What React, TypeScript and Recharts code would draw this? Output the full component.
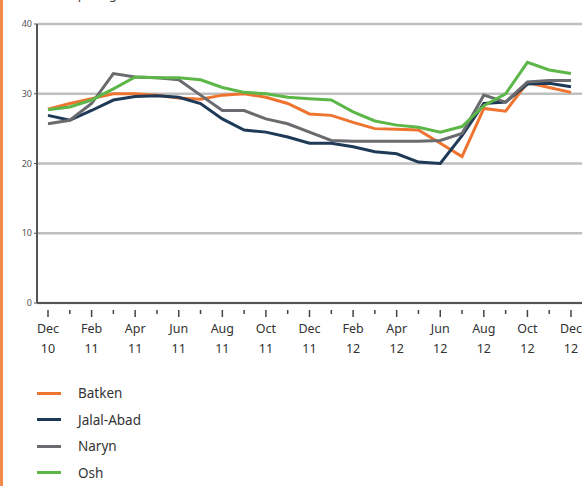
import { LineChart, Line, XAxis, YAxis, CartesianGrid } from 'recharts';

// monthly prices, Dec 2010 – Dec 2012
const months = [
  'Dec 10', 'Jan 11', 'Feb 11', 'Mar 11', 'Apr 11', 'May 11', 'Jun 11', 'Jul 11', 'Aug 11',
  'Sep 11', 'Oct 11', 'Nov 11', 'Dec 11', 'Jan 12', 'Feb 12', 'Mar 12', 'Apr 12', 'May 12',
  'Jun 12', 'Jul 12', 'Aug 12', 'Sep 12', 'Oct 12', 'Nov 12', 'Dec 12',
];
const batken = [27.8, 28.6, 29.3, 30.0, 30.0, 29.8, 29.4, 29.2, 29.8, 30.0, 29.5, 28.6, 27.1, 26.9, 25.9, 25.0, 24.9, 24.8, 22.9, 21.0, 27.9, 27.5, 31.6, 30.9, 30.2];
const jalalAbad = [26.9, 26.2, 27.6, 29.1, 29.6, 29.7, 29.5, 28.6, 26.4, 24.8, 24.5, 23.8, 22.9, 22.9, 22.4, 21.7, 21.4, 20.2, 20.0, 24.0, 28.6, 28.8, 31.4, 31.5, 31.0];
const naryn = [25.7, 26.2, 28.6, 32.9, 32.4, 32.3, 32.0, 29.8, 27.6, 27.6, 26.4, 25.7, 24.5, 23.3, 23.2, 23.2, 23.2, 23.2, 23.3, 24.3, 29.8, 28.8, 31.7, 31.9, 31.9];
const osh = [27.7, 28.1, 29.1, 30.7, 32.4, 32.3, 32.3, 32.0, 30.9, 30.2, 30.0, 29.5, 29.3, 29.1, 27.4, 26.1, 25.5, 25.2, 24.5, 25.3, 28.3, 30.0, 34.5, 33.4, 32.9];
const yTicks = [0, 10, 20, 30, 40];

const SERIES = [
  { key: 'Batken', values: batken, color: '#EE7430' },
  { key: 'Jalal-Abad', values: jalalAbad, color: '#1E3A56' },
  { key: 'Naryn', values: naryn, color: '#6A6B6E' },
  { key: 'Osh', values: osh, color: '#5DB748' },
];

const data = months.map((m, i) => {
  const row: Record<string, string | number> = { month: m };
  SERIES.forEach(s => { row[s.key] = s.values[i]; });
  return row;
});

const FONT = '"Noto Sans", "Open Sans", sans-serif';

function MonthTick(props: any) {
  const { x, y, payload, index } = props;
  const labelled = index % 2 === 0;
  const [mon, yr] = String(payload.value).split(' ');
  return (
    <g>
      <line x1={x} x2={x} y1={y - 1} y2={y + (labelled ? 6 : 3)} stroke="#444" strokeWidth={1.5} />
      {labelled && (
        <text textAnchor="middle" fontSize={12.5} fill="#333" fontFamily={FONT}>
          <tspan x={x} y={y + 22}>{mon}</tspan>
          <tspan x={x} y={y + 42}>{yr}</tspan>
        </text>
      )}
    </g>
  );
}

export default function App() {
  return (
    <div style={{ position: 'fixed', left: 0, top: 0, width: 587, height: 486, background: '#fff', overflow: 'hidden', fontFamily: FONT }}>
      <div style={{ position: 'absolute', left: 0, top: 0, width: 3, height: 486, background: '#F28A4C' }} />
      <div style={{ position: 'absolute', left: 48, top: -15, fontSize: 13, color: '#444' }}>som per kg</div>
      <LineChart width={587} height={365} data={data} margin={{ top: 24, right: 5, bottom: 0, left: 7 }}>
        <CartesianGrid vertical={false} stroke="#BFBFBF" strokeWidth={2.5} />
        <XAxis
          dataKey="month"
          interval={0}
          height={62}
          padding={{ left: 11, right: 11 }}
          axisLine={{ stroke: '#555', strokeWidth: 2 }}
          tickLine={false}
          tick={<MonthTick />}
        />
        <YAxis
          domain={[0, 40]}
          ticks={yTicks}
          width={30}
          axisLine={{ stroke: '#555', strokeWidth: 2 }}
          tickLine={{ stroke: '#555' }}
          tickSize={3}
          tick={{ fontSize: 9, fill: '#555', fontFamily: FONT }}
        />
        {SERIES.map(s => (
          <Line key={s.key} type="linear" dataKey={s.key} stroke={s.color} strokeWidth={3} dot={false} isAnimationActive={false} />
        ))}
      </LineChart>
      <div style={{ position: 'absolute', left: 37, top: 380 }}>
        {SERIES.map(s => (
          <div key={s.key} style={{ display: 'flex', alignItems: 'center', height: 26.5 }}>
            <div style={{ width: 24, height: 3, background: s.color, marginRight: 17 }} />
            <span style={{ fontSize: 13.5, color: '#333' }}>{s.key}</span>
          </div>
        ))}
      </div>
    </div>
  );
}
